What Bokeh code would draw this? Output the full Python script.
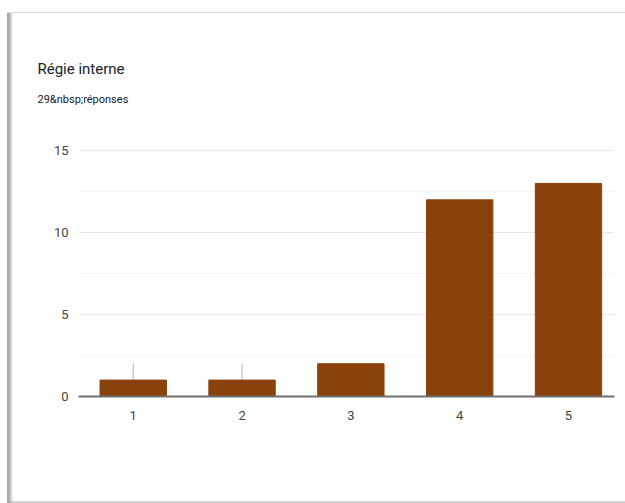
from bokeh.plotting import figure
from bokeh.models import Title, FixedTicker, Range1d
from bokeh.embed import file_html
from bokeh.resources import INLINE

title_text = "Régie interne"
subtitle_text = "29&nbsp;réponses"
categories = [1, 2, 3, 4, 5]
counts = [1, 1, 2, 12, 13]
whisker_x = [1, 2]
whisker_top = [2, 2]
y_ticks = [0, 5, 10, 15]

FONT = "Roboto"
BAR = "#8a420c"

p = figure(width=625, height=503, output_backend="svg", toolbar_location=None,
           x_range=Range1d(0.497, 5.423), y_range=Range1d(0, 15.07),
           min_border_left=78, min_border_right=11, min_border_top=149, min_border_bottom=107)
p.outline_line_color = None
p.background_fill_color = "white"
p.border_fill_color = None
p.styles = {
    "box-shadow": ("inset 0 12px 0 0 white, inset 7px 0 0 0 white, "
                   "inset 0 13px 0 0 #dedede, inset 11px 0 3px 0 #a8a8a8, "
                   "inset 0 -2px 0 0 #e2e2e2"),
    "background-color": "white",
}

# grid
p.xgrid.visible = False
p.ygrid.ticker = FixedTicker(ticks=y_ticks, minor_ticks=[2.5, 7.5, 12.5])
p.ygrid.grid_line_color = "#e8e8e8"
p.ygrid.minor_grid_line_color = "#f4f4f4"

# whiskers
p.segment(x0=whisker_x, y0=[0] * len(whisker_x), x1=whisker_x, y1=whisker_top,
          line_color="#b5b5b5", line_width=1)

p.vbar(x=categories, top=counts, width=0.61, fill_color=BAR, line_color=BAR)

# axes
p.yaxis.ticker = FixedTicker(ticks=y_ticks)
p.yaxis.axis_line_color = None
p.yaxis.major_tick_line_color = None
p.yaxis.major_tick_out = 0
p.yaxis.minor_tick_line_color = None
p.yaxis.major_label_standoff = 10
p.yaxis.major_label_text_font = FONT
p.yaxis.major_label_text_font_size = "13px"
p.yaxis.major_label_text_color = "#444444"

p.xaxis.ticker = FixedTicker(ticks=categories)
p.xaxis.axis_line_color = "#6e6e6e"
p.xaxis.axis_line_width = 2
p.xaxis.major_tick_line_color = None
p.xaxis.major_tick_out = 0
p.xaxis.minor_tick_line_color = None
p.xaxis.major_label_standoff = 14
p.xaxis.major_label_text_font = FONT
p.xaxis.major_label_text_font_size = "13px"
p.xaxis.major_label_text_color = "#444444"

# spacer (closest to frame), then subtitle, then title
p.add_layout(Title(text=" ", text_font=FONT, text_font_size="11px",
                   standoff=24), "above")
p.add_layout(Title(text=subtitle_text, text_font=FONT, text_font_size="11px",
                   text_font_style="normal", text_color="#202124",
                   offset=-41, standoff=10), "above")
p.add_layout(Title(text=title_text, text_font=FONT, text_font_size="15px",
                   text_font_style="normal", text_color="#202124",
                   offset=-41, standoff=16), "above")

open("out.html", "w").write(file_html(p, INLINE))
